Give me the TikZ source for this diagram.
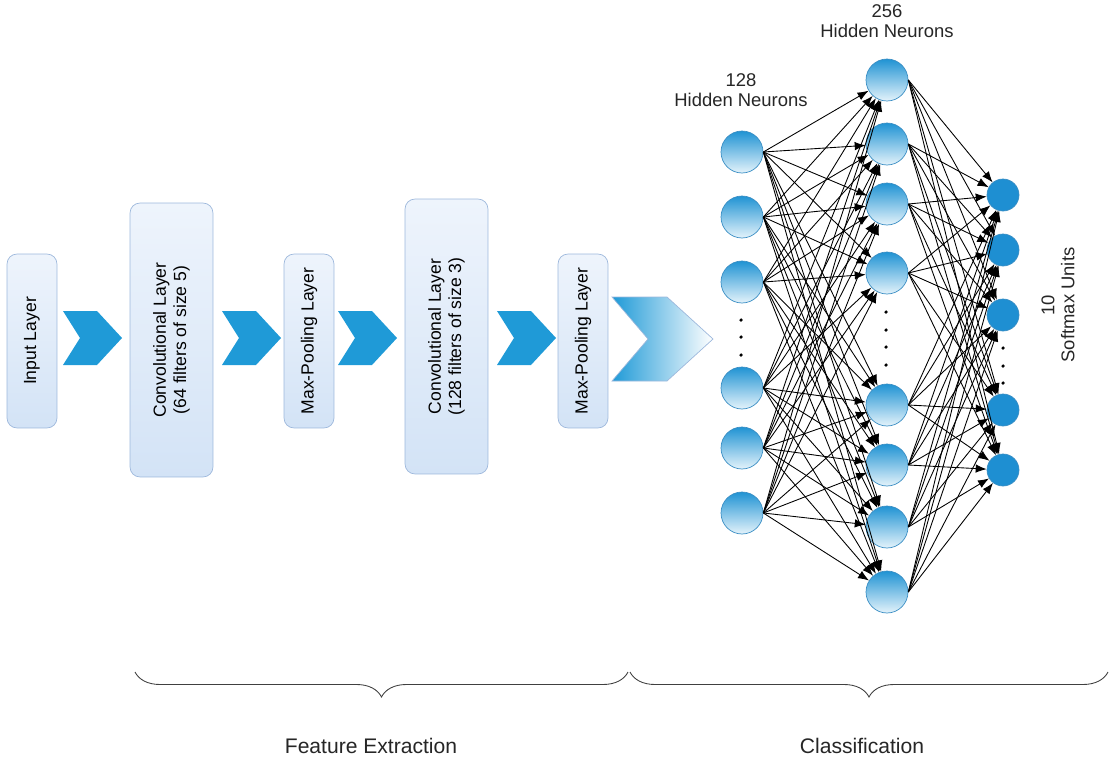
\documentclass[tikz,border=0pt]{standalone}
\usepackage{fontspec}
\setmainfont{Liberation Sans}
\usepackage{tikz}
\usetikzlibrary{arrows.meta,decorations.pathreplacing}
\definecolor{boxtop}{HTML}{EEF4FC}
\definecolor{boxbot}{HTML}{D3E3F6}
\definecolor{boxline}{HTML}{9DB8DC}
\definecolor{chevblue}{HTML}{1F9AD7}
\definecolor{ntop}{HTML}{2093D3}
\definecolor{nbot}{HTML}{E4F3FB}
\definecolor{nline}{HTML}{3A8EC4}
\definecolor{outblue}{HTML}{1E8FD2}
\tikzset{>={Latex[length=2.2mm,width=1.7mm]}}

\begin{document}
\begin{tikzpicture}[x=0.02cm, y=-0.02cm]
        % h = 128 hidden, g = 256 hidden, s = softmax (pixel coordinates, y down)
        \useasboundingbox (0,0) rectangle (1110,761);
        \tikzstyle{layer}=[draw=boxline, rounded corners=0.2cm, rotate=90, align=center,
                top color=boxtop, bottom color=boxbot, minimum height=1cm,
                font=\fontsize{10}{11.5}\selectfont]
        \tikzstyle{chev}=[fill=chevblue, draw=none]
        \tikzstyle{neuron}=[circle, draw=nline, top color=ntop, bottom color=nbot,
                minimum size=0.84cm, inner sep=0pt]
        \tikzstyle{softmax}=[circle, draw=nline, fill=outblue, minimum size=0.64cm, inner sep=0pt]
        \tikzstyle{label}=[align=center, font=\fontsize{10.5}{11.5}\selectfont, text=black!85]
        \tikzstyle{link}=[->, black, line width=0.5pt]

        % feature extraction
        \node[layer, minimum width=3.48cm] (inp) at (32,341) {Input Layer};
        \node[layer, minimum width=5.48cm, minimum height=1.66cm] (conv1) at (171.5,340)
                {Convolutional Layer\\(64 filters of size 5)};
        \node[layer, minimum width=3.48cm] (pool1) at (309,341) {Max-Pooling Layer};
        \node[layer, minimum width=5.5cm, minimum height=1.66cm] (conv2) at (446.5,336.5)
                {Convolutional Layer\\(128 filters of size 3)};
        \node[layer, minimum width=3.48cm] (pool2) at (583,341) {Max-Pooling Layer};

        \foreach \x in {63,222,338,497}
                \draw[chev] (\x,311) -- ++(34,0) -- ++(25,27) -- ++(-25,27) -- ++(-34,0)
                        -- ++(17,-27) -- cycle;
        \draw[draw=boxline, left color=chevblue, right color=white] (612,297) -- (667,297)
                -- (713,339) -- (667,381) -- (612,381) -- (648,339) -- cycle;

        % classification
        \foreach \y [count=\i] in {152,217,282,388,448,513}
                \node[neuron] (h\i) at (742,\y) {};
        \foreach \y [count=\i] in {80,144,204,273,405,465,527,592}
                \node[neuron] (g\i) at (887,\y) {};
        \foreach \y [count=\i] in {195,250,315,410,470}
                \node[softmax] (s\i) at (1003,\y) {};

        \foreach \y in {320,337,355} \fill (741,\y) circle (1pt);
        \foreach \y in {312,330,347,365} \fill (886,\y) circle (1pt);
        \foreach \y in {348,366,383} \fill (1003,\y) circle (1pt);

        \foreach \i in {1,...,6}
                \foreach \j in {1,...,8}
                        \draw[link] (h\i.east) -- (g\j);
        \foreach \i in {1,...,8}
                \foreach \j in {1,...,5}
                        \draw[link] (g\i.east) -- (s\j);

        \node[label] (l128) at (741,90) {128\\Hidden Neurons};
        \node[label] (l256) at (887,21) {256\\Hidden Neurons};
        \node[label, rotate=90] (l10) at (1058,305) {10\\Softmax Units};

        % braces
        \draw[black!75, line width=0.5pt, decorate, decoration={brace, amplitude=0.5cm}]
                (628,672) -- (135,672);
        \draw[black!75, line width=0.5pt, decorate, decoration={brace, amplitude=0.5cm}]
                (1108,672) -- (630,672);
        \node[font=\fontsize{12}{14}\selectfont, text=black!85] (feat) at (371,746) {Feature Extraction};
        \node[font=\fontsize{12}{14}\selectfont, text=black!85] (cls) at (862,746) {Classification};
\end{tikzpicture}
\end{document}
